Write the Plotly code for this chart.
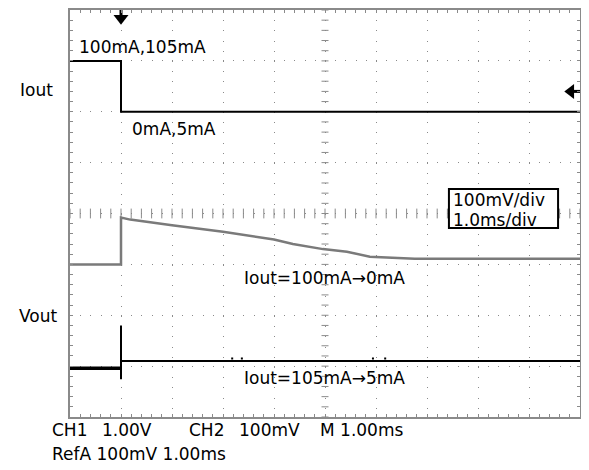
import plotly.graph_objects as go

# ---- data (in screen divisions: x 0..10, y 0..8) ----
iout_t = [0, 1, 1, 10]
iout_v = [7.0, 7.0, 6.0, 6.0]

ref_t = [0, 1, 1, 1.18, 2, 3, 4, 4.37, 4.96, 5.43, 5.88, 6.76, 10]
ref_v = [3.0, 3.0, 3.92, 3.88, 3.77, 3.64, 3.49, 3.40, 3.30, 3.25, 3.15, 3.11, 3.11]

vout_pre_t = [0, 1]
vout_pre_v = [0.96, 0.96]
vout_t = [1, 1, 1, 10]
vout_v = [1.8, 0.74, 1.1, 1.1]
glitch_t = [3.18, 3.37, 5.94, 6.18]
glitch_v = [1.15, 1.15, 1.15, 1.15]

trig_t = [1.0]
trig_v = [7.84]
lvl_t = [9.82]
lvl_v = [6.40]

status_line1 = ["CH1", "1.00V", "CH2", "100mV", "M 1.00ms"]
status_x = [-0.39, 0.59, 2.29, 3.27, 4.86]
status_line2 = "RefA 100mV 1.00ms"

XDIV, YDIV = 10.0, 8.0
GRID = "#8a8a8a"
fig = go.Figure()

# center-line graticule ticks
fig.add_trace(go.Scatter(x=[5] * 41, y=[k * 0.2 for k in range(41)], mode="markers",
                         marker=dict(symbol="line-ew", size=5, line=dict(color=GRID, width=1)),
                         hoverinfo="skip", showlegend=False))
fig.add_trace(go.Scatter(x=[k * 0.2 for k in range(51)], y=[4] * 51, mode="markers",
                         marker=dict(symbol="line-ns", size=7, line=dict(color=GRID, width=1)),
                         hoverinfo="skip", showlegend=False))

fig.add_trace(go.Scatter(x=ref_t, y=ref_v, mode="lines", line=dict(color="#7a7a7a", width=2.5),
                         showlegend=False))
fig.add_trace(go.Scatter(x=iout_t, y=iout_v, mode="lines", line=dict(color="black", width=2),
                         showlegend=False))
fig.add_trace(go.Scatter(x=vout_pre_t, y=vout_pre_v, mode="lines", line=dict(color="black", width=3.5),
                         showlegend=False))
fig.add_trace(go.Scatter(x=vout_t, y=vout_v, mode="lines", line=dict(color="black", width=2),
                         showlegend=False))
fig.add_trace(go.Scatter(x=glitch_t, y=glitch_v, mode="markers",
                         marker=dict(symbol="square", size=2, color="black"), showlegend=False))

# trigger / level markers
fig.add_trace(go.Scatter(x=trig_t * 2, y=[8.0, trig_v[0]], mode="lines", cliponaxis=False,
                         line=dict(color="black", width=3), showlegend=False))
fig.add_trace(go.Scatter(x=trig_t, y=trig_v, mode="markers", cliponaxis=False,
                         marker=dict(symbol="triangle-down", size=13, color="black"),
                         showlegend=False))
fig.add_trace(go.Scatter(x=[lvl_t[0], 10.0], y=lvl_v * 2, mode="lines", cliponaxis=False,
                         line=dict(color="black", width=3), showlegend=False))
fig.add_trace(go.Scatter(x=lvl_t, y=lvl_v, mode="markers", cliponaxis=False,
                         marker=dict(symbol="triangle-left", size=13, color="black"),
                         showlegend=False))

F = "DejaVu Sans"
ann = [
    (0.13, 7.28, "100mA,105mA"),
    (-1.02, 6.43, "Iout"),
    (1.18, 5.67, "0mA,5mA"),
    (3.37, 2.74, "Iout=100mA→0mA"),
    (-1.04, 1.99, "Vout"),
    (3.37, 0.76, "Iout=105mA→5mA"),
]
for x, y, t in ann:
    fig.add_annotation(x=x / XDIV, y=y / YDIV, text=t, xref="paper", yref="paper",
                       showarrow=False, xanchor="left", yanchor="middle",
                       font=dict(family=F, size=17, color="black"))

# scale box
fig.add_shape(type="rect", xref="paper", yref="paper", x0=0.743, x1=0.957, y0=0.4645, y1=0.560,
              line=dict(color="black", width=2), fillcolor="white", layer="above")
for y, t in [(0.533, "100mV/div"), (0.484, "1.0ms/div")]:
    fig.add_annotation(x=0.748, y=y, xref="paper", yref="paper", text=t, showarrow=False,
                       xanchor="left", yanchor="middle", font=dict(family=F, size=17, color="black"))

for x, t in zip(status_x, status_line1):
    fig.add_annotation(x=x / XDIV, y=-0.26 / YDIV, xref="paper", yref="paper", text=t,
                       showarrow=False, xanchor="left", yanchor="middle",
                       font=dict(family=F, size=17, color="black"))
fig.add_annotation(x=-0.39 / XDIV, y=-0.72 / YDIV, xref="paper", yref="paper", text=status_line2,
                   showarrow=False, xanchor="left", yanchor="middle",
                   font=dict(family=F, size=17, color="black"))

axis_common = dict(showline=True, linecolor=GRID, linewidth=2, mirror="ticks",
                   showgrid=True, gridcolor=GRID, gridwidth=1, griddash="1px,9.2px",
                   ticks="inside", ticklen=3, tickcolor=GRID, showticklabels=False,
                   zeroline=False, dtick=1, tick0=0, fixedrange=True,
                   minor=dict(ticks="inside", ticklen=3, dtick=0.2, tickcolor=GRID, showgrid=False))
fig.update_xaxes(range=[0, 10], **axis_common)
fig.update_yaxes(range=[0, 8], **axis_common)

fig.update_layout(width=581, height=462, margin=dict(l=62, r=9, t=0, b=53),
                  paper_bgcolor="white", plot_bgcolor="white")
fig.write_html("out.html")
